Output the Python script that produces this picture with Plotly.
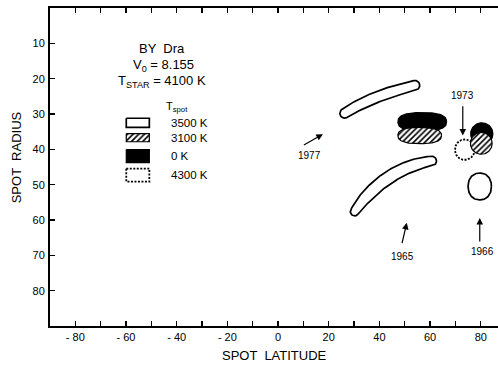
import numpy as np
import plotly.graph_objects as go

# ---------------- data ----------------
x_tick_vals = list(range(-80, 81, 10))
x_tick_text = ["- 80", "", "- 60", "", "- 40", "", "- 20", "", "0", "",
               "20", "", "40", "", "60", "", "80"]
y_tick_vals = [10, 20, 30, 40, 50, 60, 70, 80]
y_tick_text = ["10", "20", "30", "40", "50", "60", "70", "80"]

# elongated 3500 K spots: centre-line (latitude, radius) and half-width (deg)
band_1977_lat = [26.3, 33.5, 44.1, 54.0]
band_1977_rad = [29.8, 26.9, 23.9, 21.9]
band_1977_hw = [1.9, 2.1, 2.1, 1.9]

band_1965_lat = [30.2, 35.0, 44.1, 53.3, 60.6]
band_1965_rad = [57.6, 53.3, 47.7, 44.6, 43.3]
band_1965_hw = [1.7, 2.3, 2.5, 2.3, 1.9]

# compact spots: temperature, centre lat, centre radius, half-size lat, half-size radius, squareness
spot_names = ["1973 0 K", "1973 3100 K", "4300 K", "1973b 0 K", "1973b 3100 K", "1966 3500 K"]
spot_temp = ["0 K", "3100 K", "4300 K", "0 K", "3100 K", "3500 K"]
spot_lat = [56.9, 55.9, 73.7, 80.4, 80.2, 79.6]
spot_rad = [32.2, 36.1, 40.1, 35.6, 38.3, 50.5]
spot_dlat = [9.6, 8.6, 3.9, 4.4, 4.3, 4.6]
spot_drad = [2.6, 2.3, 2.9, 3.1, 3.1, 3.8]
spot_pow = [2.6, 2.5, 2.0, 2.0, 2.0, 2.2]

# legend entries
legend_temps = ["3500 K", "3100 K", "0 K", "4300 K"]

# year labels with arrows (tail -> head)
year_text = ["1977", "1973", "1965", "1966"]
arrow_tail_lat = [9.6, 72.9, 48.8, 79.6]
arrow_tail_rad = [39.0, 27.4, 67.0, 66.5]
arrow_head_lat = [17.7, 72.9, 50.8, 79.6]
arrow_head_rad = [35.7, 36.1, 60.8, 59.4]

# ---------------- layout constants ----------------
X_RANGE = [-90.0, 86.8]
Y_RANGE = [90.0, 0.0]
ASPECT = 3.528 / 2.53          # pixels per radius unit / pixels per latitude unit
FONT = "Liberation Sans"

STYLE = {
    "3500 K": dict(fillcolor="white", line=dict(color="black", width=1.7, dash="solid"), pattern=False),
    "3100 K": dict(fillcolor="white", line=dict(color="black", width=1.2, dash="solid"), pattern=True),
    "0 K": dict(fillcolor="black", line=dict(color="black", width=1.2, dash="solid"), pattern=False),
    "4300 K": dict(fillcolor="white", line=dict(color="black", width=1.8, dash="2px,1.5px"), pattern=False),
}


def band_outline(lat, rad, hw, n=80):
    lat = np.asarray(lat, float)
    r = np.asarray(rad, float) * ASPECT
    hw = np.asarray(hw, float)
    d = np.r_[0, np.cumsum(np.hypot(np.diff(lat), np.diff(r)))]
    t = np.linspace(0, d[-1], n)
    deg = min(3, len(lat) - 1)
    px = np.polyval(np.polyfit(d, lat, deg), t)
    py = np.polyval(np.polyfit(d, r, deg), t)
    w = np.interp(t, d, hw)
    tx, ty = np.gradient(px), np.gradient(py)
    nrm = np.hypot(tx, ty)
    tx, ty = tx / nrm, ty / nrm
    nx, ny = -ty, tx
    upper_x, upper_y = px + nx * w, py + ny * w
    lower_x, lower_y = px - nx * w, py - ny * w
    a_end = np.arctan2(ny[-1], nx[-1])
    ang = np.linspace(a_end, a_end - np.pi, 20)
    cap_end_x = px[-1] + w[-1] * np.cos(ang)
    cap_end_y = py[-1] + w[-1] * np.sin(ang)
    a_st = np.arctan2(-ny[0], -nx[0])
    ang = np.linspace(a_st, a_st - np.pi, 20)
    cap_st_x = px[0] + w[0] * np.cos(ang)
    cap_st_y = py[0] + w[0] * np.sin(ang)
    xs = np.r_[upper_x, cap_end_x, lower_x[::-1], cap_st_x]
    ys = np.r_[upper_y, cap_end_y, lower_y[::-1], cap_st_y]
    return xs, ys / ASPECT


def blob_outline(cx, cy, a, b, p, n=120):
    t = np.linspace(0, 2 * np.pi, n)
    c, s = np.cos(t), np.sin(t)
    x = cx + a * np.sign(c) * np.abs(c) ** (2 / p)
    y = cy + b * np.sign(s) * np.abs(s) ** (2 / p)
    return x, y


def add_shape(fig, xs, ys, temp):
    st = STYLE[temp]
    kw = dict(x=xs, y=ys, mode="lines", fill="toself", fillcolor=st["fillcolor"],
              line=dict(color=st["line"]["color"], width=st["line"]["width"], dash=st["line"]["dash"]),
              hoverinfo="skip", showlegend=False)
    if st["pattern"]:
        kw["fillpattern"] = dict(shape="/", size=4, solidity=0.4, fgcolor="black",
                                 bgcolor="white", fillmode="replace")
    fig.add_trace(go.Scatter(**kw))


fig = go.Figure()

for lat, rad, hw in [(band_1977_lat, band_1977_rad, band_1977_hw),
                     (band_1965_lat, band_1965_rad, band_1965_hw)]:
    xs, ys = band_outline(lat, rad, hw)
    add_shape(fig, xs, ys, "3500 K")

for i in range(len(spot_names)):
    xs, ys = blob_outline(spot_lat[i], spot_rad[i], spot_dlat[i], spot_drad[i], spot_pow[i])
    add_shape(fig, xs, ys, spot_temp[i])

# ---------------- legend (drawn by hand, like the original) ----------------
LEG_X0, LEG_X1 = -59.9, -50.8
LEG_YC = [32.5, 36.7, 41.9, 47.3]
LEG_H = [2.6, 2.3, 3.7, 3.7]
LEG_LABEL_X = -43.0
for temp, yc, h in zip(legend_temps, LEG_YC, LEG_H):
    xs = [LEG_X0, LEG_X1, LEG_X1, LEG_X0, LEG_X0]
    ys = [yc - h / 2, yc - h / 2, yc + h / 2, yc + h / 2, yc - h / 2]
    add_shape(fig, xs, ys, temp)

annotations = []
for temp, yc in zip(legend_temps, LEG_YC):
    annotations.append(dict(x=LEG_LABEL_X, y=yc, xref="x", yref="y", text=temp, showarrow=False,
                            xanchor="left", yanchor="middle", font=dict(family=FONT, size=11.5, color="black")))

title_lines = [("BY  Dra", -45.8, 11.5, 13),
               ("V<sub>0</sub> = 8.155", -45.3, 16.3, 13),
               ("T<sub>STAR</sub> = 4100 K", -45.7, 20.8, 13),
               ("T<sub>spot</sub>", -39.7, 28.0, 11)]
for txt, x, y, sz in title_lines:
    annotations.append(dict(x=x, y=y, xref="x", yref="y", text=txt, showarrow=False,
                            xanchor="center", yanchor="middle", font=dict(family=FONT, size=sz, color="black")))

# year arrows
LABEL_POS = [(12.6, 41.7), (72.9, 24.8), (49.0, 70.4), (80.6, 69.0)]
for i, yr in enumerate(year_text):
    annotations.append(dict(x=arrow_head_lat[i], y=arrow_head_rad[i], ax=arrow_tail_lat[i], ay=arrow_tail_rad[i],
                            xref="x", yref="y", axref="x", ayref="y", text="", showarrow=True,
                            arrowhead=2, arrowsize=1.1, arrowwidth=1.2, arrowcolor="black", standoff=0, startstandoff=0))
    annotations.append(dict(x=LABEL_POS[i][0], y=LABEL_POS[i][1], xref="x", yref="y", text=yr, showarrow=False,
                            xanchor="center", yanchor="middle", font=dict(family=FONT, size=10, color="black")))

# axis titles
annotations.append(dict(x=0.5, y=-0.092, xref="paper", yref="paper", text="SPOT  LATITUDE", showarrow=False,
                        xanchor="center", yanchor="middle", font=dict(family=FONT, size=13, color="black")))
annotations.append(dict(x=-0.074, y=0.53, xref="paper", yref="paper", text="SPOT  RADIUS", showarrow=False,
                        textangle=-90, xanchor="center", yanchor="middle",
                        font=dict(family=FONT, size=13, color="black")))

fig.update_layout(
    width=498, height=365,
    margin=dict(l=50, r=0, t=8, b=39),
    paper_bgcolor="white", plot_bgcolor="white",
    showlegend=False,
    annotations=annotations,
    font=dict(family=FONT, color="black"),
    xaxis=dict(range=X_RANGE, tickmode="array", tickvals=x_tick_vals, ticktext=x_tick_text,
               ticks="inside", ticklen=5, tickwidth=1.3, tickcolor="black",
               showline=True, linewidth=2, linecolor="black", mirror="ticks",
               showgrid=False, zeroline=False, tickfont=dict(family=FONT, size=11, color="black")),
    yaxis=dict(range=Y_RANGE, tickmode="array", tickvals=y_tick_vals, ticktext=y_tick_text,
               ticks="inside", ticklen=5, tickwidth=1.3, tickcolor="black",
               showline=True, linewidth=2, linecolor="black", mirror=False,
               showgrid=False, zeroline=False, tickfont=dict(family=FONT, size=11, color="black"),
               ticklabelstandoff=1),
)

fig.write_html("out.html",
               config={"displayModeBar": False, "staticPlot": True},
               post_script="document.body.style.margin='0';document.body.style.padding='0';")
